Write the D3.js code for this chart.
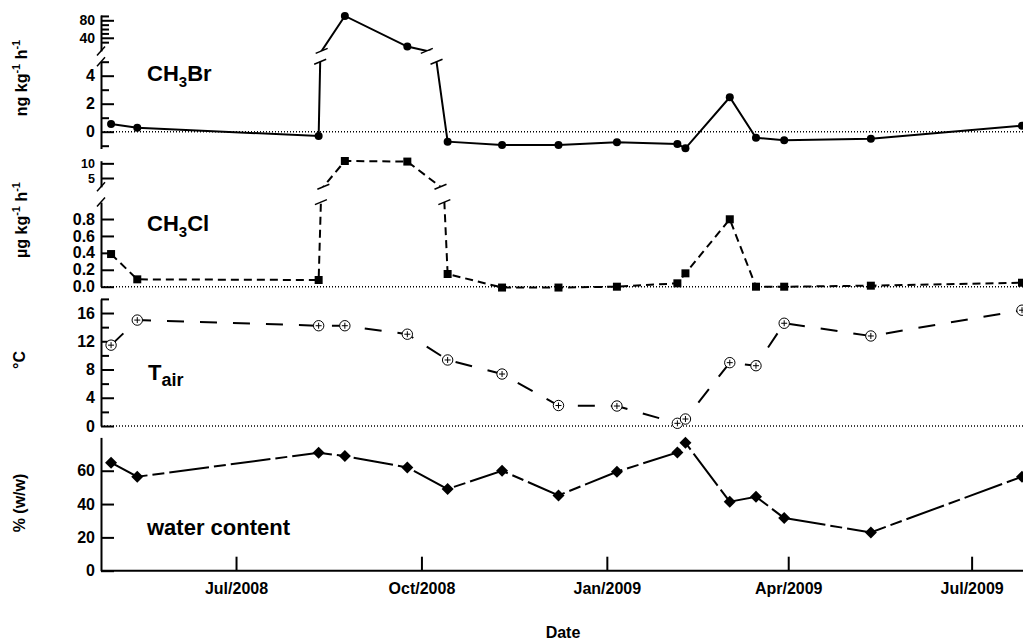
<!DOCTYPE html>
<html><head><meta charset="utf-8">
<script src="https://cdn.jsdelivr.net/npm/d3@7/dist/d3.min.js"></script>
<style>
body{margin:0;background:#fff}
svg text{font-family:"Liberation Sans",Arial,Helvetica,sans-serif;font-weight:bold;fill:#000}
.tick text{font-size:16px}
.sm14 .tick text{font-size:14px}
.sm12 .tick text{font-size:12.5px}
.ttl{font-size:16px}
.lbl{font-size:22px}
</style></head><body>
<svg id="c" width="1023" height="641"></svg>
<script>
// ---- data ----
const dates = ["2008-04-30","2008-05-13","2008-08-11","2008-08-24","2008-09-24","2008-10-14","2008-11-10","2008-12-08",
               "2009-01-06","2009-02-05","2009-02-09","2009-03-03","2009-03-16","2009-03-30","2009-05-12","2009-07-26"];
const ch3br = [0.55, 0.29, -0.31, 90, 20, -0.71, -0.95, -0.95, -0.76, -0.88, -1.19, 2.46, -0.43, -0.61, -0.5, 0.43];
const ch3cl = [0.386, 0.087, 0.079, 10.8, 10.6, 0.15, -0.01, -0.01, 0.0, 0.04, 0.158, 0.797, 0.0, 0.0, 0.012, 0.047];
const tair  = [11.45, 15.0, 14.2, 14.2, 13.0, 9.35, 7.36, 2.9, 2.83, 0.38, 0.99, 8.97, 8.54, 14.55, 12.75, 16.4];
const water = [64.8, 56.4, 70.8, 68.8, 62.0, 49.0, 60.0, 45.2, 59.4, 71.0, 76.8, 41.4, 44.4, 31.6, 23.0, 56.4];
const xTicks = ["2008-07-01","2008-10-01","2009-01-01","2009-04-01","2009-07-01"];
const brLowerTicks = [0,2,4], brLowerMinor = [-1,1,3,5];
const brUpperTicks = [40,80], brUpperMinor = [30,50,60,70,90];
const clUpperTicks = [5,10];
const clLowerTicks = [0,0.2,0.4,0.6,0.8];
const tTicks = [0,4,8,12,16], tMinor = [2,6,10,14,18];
const wTicks = [0,20,40,60];

// ---- layout ----
const svg = d3.select("#c");
const X0 = 101, X1 = 1022;
const parse = d3.utcParse("%Y-%m-%d");
const dd = dates.map(parse);
const x = d3.scaleUtc().domain([parse("2008-04-25"), parse("2009-07-26")]).range([X0, X1]);

const yBrL = d3.scaleLinear().domain([-1.2, 5]).range([148.5, 61.7]);
const yBrU = d3.scaleLinear().domain([10, 92]).range([50.9, 15.05]);
const yClL = d3.scaleLinear().domain([0, 1.0]).range([286.7, 202.1]);
const yClU = d3.scaleLinear().domain([2, 10.9]).range([186.8, 160.7]);
const yT = d3.scaleLinear().domain([0, 18]).range([426, 298.9]);
const yW = d3.scaleLinear().domain([0, 80]).range([570.7, 437.4]);

const defs = svg.append("defs");
function clip(id, y0, y1){
  defs.append("clipPath").attr("id", id).append("rect")
    .attr("x", 0).attr("y", y0).attr("width", 1100).attr("height", y1 - y0);
  return "url(#" + id + ")";
}

// zero lines
[yBrL(0), yClL(0), yT(0)].forEach(y => {
  svg.append("line").attr("x1", X0).attr("x2", 1023).attr("y1", y).attr("y2", y)
    .attr("stroke", "#000").attr("stroke-width", 1.5).attr("stroke-dasharray", "1,2");
});

function slash(cx, cy, w, h){
  svg.append("line").attr("x1", cx - w/2).attr("y1", cy + h/2).attr("x2", cx + w/2).attr("y2", cy - h/2)
    .attr("stroke", "#000").attr("stroke-width", 1.5);
}

function yAxis(scale, ticks, minor, fmt, cls){
  const g = svg.append("g").attr("transform", `translate(${X0},0)`).attr("class", cls || null);
  g.call(d3.axisLeft(scale).tickValues(ticks).tickSize(-13).tickSizeOuter(0).tickPadding(6).tickFormat(fmt));
  if (minor && minor.length){
    const m = g.append("g").call(d3.axisLeft(scale).tickValues(minor).tickSize(-8).tickSizeOuter(0).tickFormat(""));
    m.select(".domain").remove();
  }
  g.selectAll("path,line").attr("stroke", "#000").attr("stroke-width", 2);
  return g;
}

function lineFor(vals, y){
  return d3.line().x((d, i) => x(dd[i])).y(d => y(d))(vals);
}

function drawSeries(vals, yL, yU, lowerMax, upperMin, dash, id){
  const gen = (y) => svg.append("path").attr("d", lineFor(vals, y)).attr("fill", "none")
    .attr("stroke", "#000").attr("stroke-width", 2).attr("stroke-dasharray", dash || null);
  if (!yU){ gen(yL); return; }
  gen(yL).attr("clip-path", clip(id + "L", yL(lowerMax), 640));
  gen(yU).attr("clip-path", clip(id + "U", 0, yU(upperMin)));
  for (let i = 0; i < vals.length - 1; i++){
    const a = vals[i], b = vals[i+1];
    if ((a > lowerMax) !== (b > lowerMax)){
      const xa = x(dd[i]), xb = x(dd[i+1]);
      const tl = (lowerMax - a) / (b - a);
      slash(xa + tl * (xb - xa), yL(lowerMax), 12, 5);
      const tu = (upperMin - a) / (b - a);
      slash(xa + tu * (xb - xa), yU(upperMin), 12, 5);
    }
  }
}

// ---- panel 1: CH3Br ----
yAxis(yBrL, brLowerTicks, brLowerMinor, d3.format("d"));
yAxis(yBrU, brUpperTicks, brUpperMinor, d3.format("d"), "sm14");
slash(X0, yBrL.range()[1], 8, 9);
slash(X0, yBrU.range()[0], 8, 9);
drawSeries(ch3br, yBrL, yBrU, 5, 10, null, "br");
svg.append("g").selectAll("circle").data(ch3br).join("circle")
  .attr("cx", (d, i) => x(dd[i])).attr("cy", d => d > 5 ? yBrU(d) : yBrL(d)).attr("r", 4).attr("fill", "#000");

// ---- panel 2: CH3Cl ----
yAxis(yClL, clLowerTicks, [], d3.format(".1f"));
yAxis(yClU, clUpperTicks, [], d3.format("d"), "sm12");
slash(X0, yClL.range()[1], 8, 9);
slash(X0, yClU.range()[0], 8, 9);
drawSeries(ch3cl, yClL, yClU, 1.0, 2, "8,5", "cl");
svg.append("g").selectAll("path").data(ch3cl).join("path")
  .attr("d", d3.symbol(d3.symbolSquare, 64))
  .attr("transform", (d, i) => `translate(${x(dd[i])},${d > 1 ? yClU(d) : yClL(d)})`).attr("fill", "#000");

// ---- panel 3: Tair ----
yAxis(yT, tTicks, tMinor, d3.format("d"));
drawSeries(tair, yT, null, 0, 0, "17,16", "t");
const tg = svg.append("g").selectAll("g").data(tair).join("g")
  .attr("transform", (d, i) => `translate(${x(dd[i])},${yT(d)})`);
tg.append("circle").attr("r", 5.2).attr("fill", "#fff").attr("stroke", "#000").attr("stroke-width", 1);
tg.append("path").attr("d", "M-3,0H3M0,-3V3").attr("stroke", "#000").attr("stroke-width", 1);

// ---- panel 4: water content ----
yAxis(yW, wTicks, [], d3.format("d"));
drawSeries(water, yW, null, 0, 0, "40,5,12,5", "w");
svg.append("g").selectAll("path").data(water).join("path")
  .attr("d", d3.symbol(d3.symbolSquare, 72))
  .attr("transform", (d, i) => `translate(${x(dd[i])},${yW(d)}) rotate(45)`).attr("fill", "#000");

// ---- x axis ----
const gx = svg.append("g").attr("transform", `translate(0,${yW(0)})`)
  .call(d3.axisBottom(x).tickValues(xTicks.map(parse)).tickSize(-14).tickSizeOuter(0).tickPadding(12)
    .tickFormat(d3.utcFormat("%b/%Y")));
gx.select(".domain").attr("d", `M${X0},0H1023`);
gx.selectAll("path,line").attr("stroke", "#000").attr("stroke-width", 2);

// ---- titles ----
function vtitle(cx, cy, parts){
  const t = svg.append("text").attr("class", "ttl").attr("text-anchor", "middle")
    .attr("transform", `translate(${cx},${cy}) rotate(-90)`);
  parts.forEach(p => {
    const s = t.append("tspan").text(p[0]);
    if (p[1]) s.attr("font-size", "11px").attr("dy", "-7");
    if (p[2]) s.attr("dy", "7");
  });
}
vtitle(27, 78, [["ng kg"], ["-1", true], [" h", false, true], ["-1", true]]);
vtitle(27, 220, [["µg kg"], ["-1", true], [" h", false, true], ["-1", true]]);
vtitle(25, 360, [["°C"]]);
vtitle(25, 503, [["% (w/w)"]]);
svg.append("text").attr("class", "ttl").attr("text-anchor", "middle").attr("x", 563).attr("y", 638).text("Date");

function label(px, py, main, sub, rest){
  const t = svg.append("text").attr("class", "lbl").attr("x", px).attr("y", py);
  t.append("tspan").text(main);
  t.append("tspan").attr("font-size", sub.size).attr("dy", 6).text(sub.text);
  if (rest) t.append("tspan").attr("dy", -6).text(rest);
}
label(147, 81, "CH", {text: "3", size: "15px"}, "Br");
label(147, 231, "CH", {text: "3", size: "15px"}, "Cl");
label(148, 380, "T", {text: "air", size: "18px"}, null);
svg.append("text").attr("class", "lbl").attr("x", 147).attr("y", 535).text("water content");
</script>
</body></html>
